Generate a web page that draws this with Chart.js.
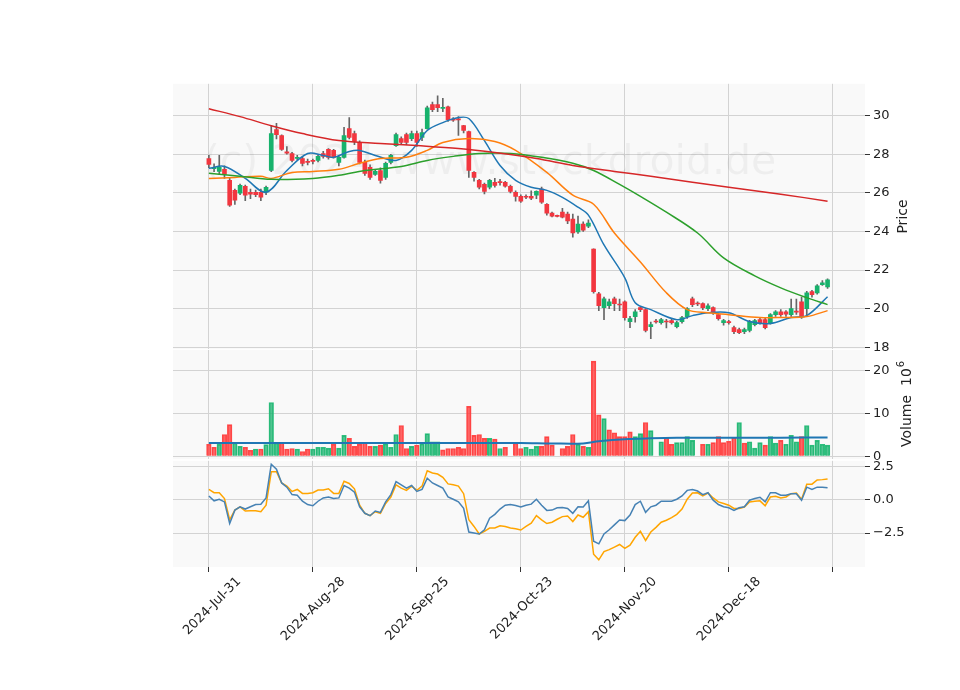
<!DOCTYPE html>
<html><head><meta charset="utf-8">
<script src="https://cdn.jsdelivr.net/npm/chart.js@4/dist/chart.umd.min.js"></script>
<style>
html,body{margin:0;padding:0;background:#fff;}
#wrap{position:relative;width:960px;height:690px;overflow:hidden;}
canvas{position:absolute;left:0;}
</style></head><body>
<div id="wrap">
<canvas id="cMain" style="top:73px"></canvas>
<canvas id="cVol" style="top:300px"></canvas>
<canvas id="cMacd" style="top:450px"></canvas>
</div>
<script>
const tickIdx=[0,20,40,60,80,100,120];
const tickLabels=['2024-Jul-31','2024-Aug-28','2024-Sep-25','2024-Oct-23','2024-Nov-20','2024-Dec-18',''];
const openP=[27.78,27.25,27.11,27.22,26.65,26.13,25.98,26.34,26.03,26.03,26.03,26.03,27.16,29.28,28.97,28.12,28.04,27.78,27.78,27.63,
27.68,27.68,28.04,28.25,28.2,27.58,27.84,29.33,29.07,28.61,27.58,27.32,26.96,27.16,26.8,27.58,28.45,28.81,29.02,28.81,
29.07,28.87,29.33,30.57,30.57,30.38,30.46,29.8,29.82,29.48,29.18,27.06,26.65,26.44,26.29,26.55,26.57,26.55,26.34,26.03,
25.82,25.82,25.82,25.88,26.19,25.41,24.95,24.8,25.0,24.9,24.64,23.97,24.38,24.28,23.09,20.77,20.05,20.15,20.51,20.23,
20.36,19.33,19.59,20.05,19.95,19.07,19.35,19.28,19.35,19.38,19.07,19.33,19.59,20.51,20.28,20.26,20.0,20.05,19.69,19.28,
19.33,19.02,18.92,18.81,18.87,19.17,19.43,19.43,19.28,19.69,19.84,19.84,19.69,19.86,20.36,20.0,20.88,20.82,21.24,21.13];
const closeP=[27.47,27.32,27.32,26.96,25.36,25.62,26.39,25.88,25.93,25.9,25.78,26.29,29.07,29.02,28.25,28.06,27.68,27.84,27.53,27.58,
27.63,27.89,27.89,27.84,27.84,27.84,28.97,28.87,28.66,27.58,27.01,26.8,27.11,26.65,27.53,27.94,29.02,28.61,28.61,29.07,
28.61,29.12,30.41,30.31,30.41,30.42,29.79,29.77,29.78,29.23,27.16,26.8,26.29,26.08,26.65,26.39,26.53,26.34,26.08,25.82,
25.57,25.77,25.72,26.08,25.52,24.95,24.79,24.78,24.74,24.54,23.92,24.38,24.07,24.43,20.88,20.15,20.51,20.36,20.26,20.19,
19.54,19.48,19.84,19.95,18.87,19.17,19.31,19.43,19.31,19.28,19.28,19.54,20.0,20.21,20.24,20.05,20.15,19.79,19.48,19.38,
19.28,18.81,18.76,18.92,19.33,19.38,19.28,19.02,19.69,19.84,19.69,19.72,20.0,19.82,19.59,20.82,20.72,21.18,21.34,21.49];
const highP=[27.95,27.5,27.94,27.4,26.8,26.2,26.45,26.4,26.2,26.15,26.2,26.35,29.5,29.6,29.0,28.4,28.1,27.95,27.85,27.75,
27.75,27.95,28.15,28.3,28.25,27.9,29.4,29.9,29.2,28.7,27.7,27.45,27.2,27.3,27.6,28.0,29.1,28.9,29.1,29.2,
29.2,29.3,30.5,30.7,31.03,30.9,30.5,29.9,29.95,29.5,29.2,27.1,26.7,26.5,26.7,26.75,26.7,26.6,26.4,26.1,
25.9,25.9,26.1,26.1,26.3,25.45,25.0,24.85,25.2,25.0,24.9,24.8,24.5,24.6,23.1,20.85,20.6,20.5,20.6,20.5,
20.4,19.6,19.95,20.1,20.0,19.3,19.45,19.5,19.45,19.45,19.35,19.6,20.05,20.6,20.35,20.3,20.25,20.1,19.75,19.45,
19.4,19.1,19.0,19.0,19.4,19.45,19.5,19.55,19.75,19.9,19.95,19.9,20.5,20.5,20.6,20.9,20.95,21.25,21.45,21.55];
const lowP=[27.3,27.1,26.97,26.75,25.3,25.4,25.9,25.6,25.7,25.8,25.6,25.9,27.1,28.8,28.2,28.0,27.6,27.7,27.4,27.45,
27.5,27.6,27.8,27.75,27.8,27.4,27.8,28.8,28.5,27.5,26.9,26.7,26.9,26.5,26.7,27.5,28.4,28.5,28.5,28.7,
28.4,28.7,29.3,30.2,30.2,30.2,29.7,29.7,28.97,29.1,26.8,26.6,26.2,25.95,26.2,26.3,26.4,26.3,26.0,25.57,
25.5,25.7,25.65,25.7,25.45,24.85,24.75,24.75,24.7,24.4,23.7,23.9,24.0,24.2,20.8,19.9,19.43,20.0,19.9,19.9,
19.4,19.02,19.3,19.85,18.8,18.45,19.25,19.2,19.0,19.2,19.0,19.25,19.5,20.1,20.15,19.95,19.9,19.7,19.4,19.15,
19.2,18.7,18.7,18.7,18.8,19.1,19.2,18.95,19.2,19.6,19.6,19.6,19.6,19.7,19.5,19.6,20.6,20.75,21.2,21.05];
const volume=[2.8,2.1,2.8,5.1,7.4,3.1,2.3,2.1,1.4,1.7,1.7,2.7,12.6,3.1,3.2,1.7,1.8,1.7,1.1,1.7,
1.7,2.1,2.1,1.9,2.8,1.9,4.9,4.2,2.3,2.8,3.2,2.3,2.3,2.6,2.9,2.1,5.1,7.2,1.8,2.3,
2.6,2.9,5.3,3.4,3.4,1.5,1.8,1.8,2.1,1.8,11.7,4.9,5.1,4.2,4.2,4.0,1.8,2.1,0,3.1,
1.8,2.1,1.7,2.3,2.3,4.6,2.6,0,1.8,2.3,5.1,2.8,2.3,2.1,22.3,9.7,8.8,6.2,5.5,4.6,
4.6,5.7,4.6,5.3,7.9,6.0,0,3.4,4.4,2.8,3.2,3.2,4.6,3.7,0,2.8,2.8,3.2,4.6,3.2,
3.5,4.4,7.9,3.1,3.4,1.9,3.2,2.6,4.6,3.1,3.7,2.8,4.9,3.4,4.6,7.2,2.6,3.7,2.8,2.6];
const volDir='ddudduudduduuudddudduuuuduuddddduduuuddu'+'duuuudddddddddududdd'+'duuuddd0dddududduddd'+'dduudu0udduuuu0duddd'+'dduduuuduu'+'duuuduuuuu';
const maBlueX=[0,3,7,11,15,19,22,24,27,29,32,36,39,42,45,48,50,53,56,59,62,65,68,71,73,76,80,82,85,90,93,96,100,104,108,112,115,119];
const maBlueY=[27.27,27.37,26.75,26.03,27.16,28.04,27.94,27.84,28.14,28.2,27.94,27.68,28.2,29.23,29.64,29.9,29.85,28.71,27.42,26.65,26.29,26.13,25.77,25.26,24.85,23.3,21.6,20.31,19.95,19.43,19.64,19.79,19.79,19.33,19.23,19.54,19.64,20.62];
const maOrangeX=[0,5,10,12,16,20,25,29,33,38,42,45,50,55,59,65,70,74,78,83,88,92,96,100,106,110,115,119];
const maOrangeY=[26.75,26.8,26.86,26.75,27.06,27.11,27.22,27.53,27.78,27.84,28.2,28.61,28.81,28.66,28.2,27.06,25.88,25.41,23.92,22.42,20.82,19.95,19.79,19.69,19.54,19.54,19.59,19.9];
const maGreenX=[0,6,12,20,25,30,37,42,47,52,58,64,70,74,79,83,88,94,99,105,110,115,119];
const maGreenY=[27.01,26.86,26.7,26.75,26.91,27.16,27.37,27.68,27.89,28.04,28.04,27.84,27.53,27.16,26.44,25.82,25.0,23.92,22.63,21.7,21.08,20.57,20.21];
const maRedX=[0,6,12,18,25,33,40,48,55,63,70,78,85,93,100,110,119];
const maRedY=[30.36,29.95,29.48,29.07,28.71,28.56,28.45,28.3,28.09,27.78,27.42,27.11,26.86,26.55,26.29,25.93,25.57];
const volMaX=[0,20,40,60,66,72,75,80,85,90,100,110,119];
const volMaY=[3.1,3.1,3.1,3.1,3.0,3.0,3.5,4.0,4.2,4.3,4.3,4.35,4.4];
const macdBlue=[0.3,-0.07,0.05,-0.15,-1.78,-0.77,-0.52,-0.69,-0.52,-0.35,-0.32,0.15,2.69,2.32,1.28,0.96,0.4,0.35,-0.1,-0.35,
-0.44,-0.1,0.15,0.22,0.1,0.15,1.09,0.89,0.59,-0.52,-1.01,-1.19,-0.84,-0.94,-0.15,0.4,1.38,1.14,0.89,1.09,
0.64,0.79,1.63,1.28,1.09,0.89,0.22,0.05,-0.15,-0.64,-2.42,-2.49,-2.57,-2.25,-1.38,-1.09,-0.69,-0.4,-0.35,-0.42,
-0.54,-0.4,-0.32,0.05,-0.4,-0.79,-0.77,-0.59,-0.57,-0.64,-1.01,-0.52,-0.54,-0.07,-3.11,-3.31,-2.57,-2.25,-1.88,-1.51,
-1.56,-1.14,-0.35,-0.1,-0.94,-0.52,-0.4,-0.1,-0.1,-0.1,0.05,0.3,0.72,0.79,0.67,0.4,0.54,-0.02,-0.35,-0.52,
-0.59,-0.79,-0.59,-0.52,-0.02,0.1,0.2,-0.15,0.54,0.54,0.35,0.35,0.47,0.47,-0.02,0.96,0.79,0.96,0.96,0.91];
const macdOrange=[0.79,0.54,0.54,0.1,-1.5,-0.77,-0.52,-0.84,-0.82,-0.82,-0.89,-0.4,2.12,2.12,1.28,1.04,0.64,0.79,0.49,0.49,
0.54,0.74,0.74,0.84,0.49,0.49,1.41,1.24,0.84,-0.4,-1.01,-1.19,-0.89,-1.01,-0.27,0.22,1.14,0.89,0.72,1.04,
0.72,1.04,2.2,2.03,1.95,1.7,1.21,1.14,1.04,0.47,-1.5,-2.0,-2.57,-2.37,-2.12,-2.12,-1.95,-2.0,-2.12,-2.18,
-2.27,-2.0,-1.75,-1.19,-1.5,-1.78,-1.68,-1.46,-1.26,-1.21,-1.63,-1.14,-1.31,-0.89,-4.1,-4.52,-3.9,-3.75,-3.56,-3.36,
-3.66,-3.41,-2.82,-2.37,-3.06,-2.42,-2.07,-1.68,-1.53,-1.33,-1.09,-0.69,0.05,0.52,0.54,0.3,0.52,0.15,-0.15,-0.27,
-0.4,-0.64,-0.64,-0.54,-0.15,-0.1,-0.07,-0.44,0.22,0.27,0.15,0.22,0.47,0.52,0.05,1.19,1.19,1.51,1.53,1.58];

const idx=openP.map((_,i)=>i);
const GREEN='#17b26c',RED='#f2363f';
const FONT={family:'"DejaVu Sans"',size:13};
const GRID='#d3d3d3';
const XMIN=-6.9,XMAX=126.2;

const bgPlugin={id:'bg',beforeDraw(c){const a=c.chartArea,x=c.ctx;x.save();x.fillStyle='#f9f9f9';x.fillRect(a.left,a.top,a.right-a.left,a.bottom-a.top);x.restore();}};
function titlePlugin(draw){return {id:'ttl',afterDraw(c){const x=c.ctx;x.save();draw(x,c);x.restore();}};}

function xScale(show){
  return {type:'linear',min:XMIN,max:XMAX,offset:false,
    afterBuildTicks:s=>{s.ticks=tickIdx.map(v=>({value:v}));},
    grid:{color:GRID,offset:false,drawTicks:show,tickLength:5,tickColor:'#333'},border:{display:false},
    ticks:{display:show,font:FONT,color:'#222',maxRotation:45,minRotation:45,autoSkip:false,padding:2,labelOffset:30,
      callback:(v)=>{const k=tickIdx.indexOf(v);return k>=0?tickLabels[k]:'';}},
    afterFit:s=>{s.height=show?123:0;}};
}
function yScale(min,max,ticks,fmt){
  return {position:'right',min,max,
    afterBuildTicks:s=>{s.ticks=ticks.map(v=>({value:v}));},
    grid:{color:GRID,tickLength:5,tickColor:'#333'},border:{display:false},
    ticks:{font:FONT,color:'#222',padding:3,callback:fmt||(v=>v)},
    afterFit:s=>{s.width=55;}};
}
const commonOpts=(padTop,padBottom)=>({responsive:false,animation:false,
  layout:{padding:{left:173,right:40,top:padTop,bottom:padBottom}},
  plugins:{legend:{display:false},tooltip:{enabled:false}}});

function line(xs,ys,color,w){return {type:'line',data:xs.map((x,i)=>({x,y:ys[i]})),borderColor:color,borderWidth:w||1.5,pointRadius:0,tension:0.35,order:0};}

// MAIN
const cm=document.getElementById('cMain');cm.width=960;cm.height=287;
new Chart(cm,{type:'bar',
  data:{datasets:[
    line(maRedX,maRedY,'#d62728'),line(maGreenX,maGreenY,'#2ca02c'),line(maOrangeX,maOrangeY,'#ff7f0e'),line(maBlueX,maBlueY,'#1f77b4'),
    {type:'bar',data:idx.map(i=>({x:i,y:[Math.min(openP[i],closeP[i]),Math.max(openP[i],closeP[i])]})),
      backgroundColor:idx.map(i=>closeP[i]>=openP[i]?GREEN:RED),barThickness:4,grouped:false,minBarLength:1,order:1},
    {type:'bar',data:idx.map(i=>({x:i,y:[lowP[i],highP[i]]})),backgroundColor:'#666',barThickness:1,grouped:false,order:2}
  ]},
  options:Object.assign(commonOpts(10,10),{scales:{x:xScale(false),y:yScale(17.9,31.65,[18,20,22,24,26,28,30])}}),
  plugins:[bgPlugin,{id:'wm',beforeDatasetsDraw(c){const x=c.ctx;x.save();x.font='41px "DejaVu Sans"';x.fillStyle='rgba(0,0,0,0.045)';x.textAlign='center';x.textBaseline='middle';x.fillText('(c) 2024 www.stockdroid.de',490,90);x.restore();}},
    titlePlugin((x,c)=>{x.font='14px "DejaVu Sans"';x.fillStyle='#222';x.translate(903,(c.chartArea.top+c.chartArea.bottom)/2);x.rotate(-Math.PI/2);x.textAlign='center';x.textBaseline='middle';x.fillText('Price',0,0);})]
});

// VOLUME
const cv=document.getElementById('cVol');cv.width=960;cv.height=170;
new Chart(cv,{type:'bar',
  data:{datasets:[
    line(volMaX,volMaY,'#1f77b4',2),
    {type:'bar',data:idx.map(i=>({x:i,y:volume[i]})),
      backgroundColor:idx.map(i=>volDir[i]==='u'?'rgba(23,178,108,0.75)':'rgba(255,60,60,0.78)'),
      borderColor:idx.map(i=>volDir[i]==='u'?'#2fbf7e':'#ff4a4a'),borderWidth:1,barThickness:4.6,grouped:false,order:1}
  ]},
  options:Object.assign(commonOpts(50,10),{scales:{x:xScale(false),y:yScale(-0.7,24.9,[0,10,20])}}),
  plugins:[bgPlugin,titlePlugin((x,c)=>{x.fillStyle='#222';x.translate(907,147);x.rotate(-Math.PI/2);x.textBaseline='middle';x.textAlign='left';
    x.font='14px "DejaVu Sans"';x.fillText('Volume',0,0);let w=x.measureText('Volume  ').width;x.fillText('10',w,0);let w2=x.measureText('10').width;x.font='10px "DejaVu Sans"';x.fillText('6',w+w2+1,-6);})]
});

// MACD
const cd=document.getElementById('cMacd');cd.width=960;cd.height=240;
new Chart(cd,{type:'line',
  data:{datasets:[
    {data:idx.map(i=>({x:i,y:macdBlue[i]})),borderColor:'#4682b4',borderWidth:1.5,pointRadius:0,tension:0},
    {data:idx.map(i=>({x:i,y:macdOrange[i]})),borderColor:'#ffa500',borderWidth:1.5,pointRadius:0,tension:0}
  ]},
  options:Object.assign(commonOpts(10,0),{scales:{x:xScale(true),y:yScale(-5.06,2.95,[-2.5,0,2.5],v=>v===0?'0.0':(v<0?'\u22122.5':'2.5'))}}),
  plugins:[bgPlugin]
});
</script>
</body></html>
